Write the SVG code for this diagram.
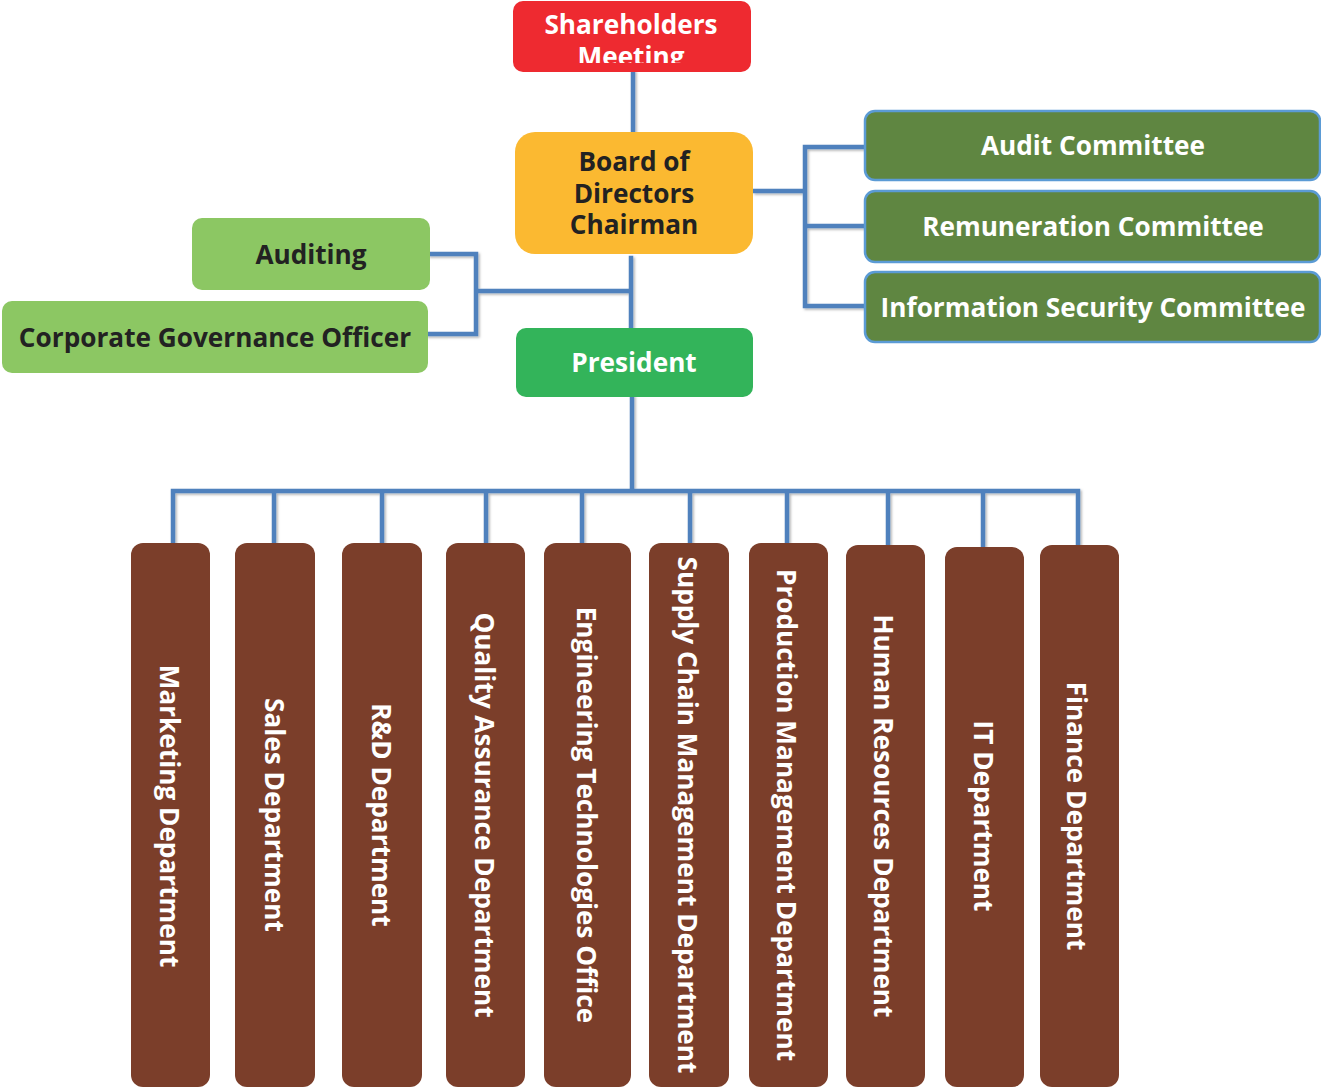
<svg xmlns="http://www.w3.org/2000/svg" width="1321" height="1087" viewBox="0 0 1321 1087">
<defs>
<style>
.t{font-family:"Open Sans","Noto Sans","DejaVu Sans",sans-serif;font-weight:bold;font-size:26.2px;text-anchor:middle;dominant-baseline:central}
.w{fill:#ffffff}
.d{fill:#222222}
.conn{fill:none;stroke:#4F81BD;stroke-width:4.5;stroke-linecap:square}
.dept{fill:#7B3E2A}
.cmt{fill:#5F8641;stroke:#5B9BD5;stroke-width:2.5}
</style>
<filter id="sh" x="-5%" y="-5%" width="110%" height="110%">
<feDropShadow dx="1.5" dy="1.5" stdDeviation="1.2" flood-color="#000" flood-opacity="0.3"/>
</filter>
<clipPath id="clipSH"><rect x="513" y="1" width="238" height="62"/></clipPath>
</defs>
<rect width="1321" height="1087" fill="#ffffff"/>

<g id="connectors" filter="url(#sh)">
<path class="conn" d="M633,72 V132"/>
<path class="conn" d="M755,191 H805 M805,147 V306 M805,147 H865 M805,226 H865 M805,306 H865"/>
<path class="conn" d="M631,258 V328 M476,291 H631 M430,254 H476 V334 H428"/>
<path class="conn" d="M632,397 V491 M173,491 H1078 M173,491 V543 M274,491 V543 M382,491 V543 M486,491 V543 M582,491 V543 M690,491 V543 M787,491 V543 M888,491 V545 M983,491 V547 M1078,491 V545"/>
</g>

<g id="shareholders">
<rect x="513" y="1" width="238" height="71" rx="10" fill="#EE2A30"/>
<g clip-path="url(#clipSH)">
<text class="t w" x="631" y="24">Shareholders</text>
<text class="t w" x="631" y="56">Meeting</text>
</g>
</g>

<g id="board">
<rect x="515" y="132" width="238" height="122" rx="20" fill="#FBB931"/>
<text class="t d" x="634" y="161">Board of</text>
<text class="t d" x="634" y="193">Directors</text>
<text class="t d" x="634" y="224">Chairman</text>
</g>

<g id="audit-committee">
<rect class="cmt" x="865" y="111" width="455" height="69" rx="10"/>
<text class="t w" x="1093" y="145">Audit Committee</text>
</g>
<g id="remuneration-committee">
<rect class="cmt" x="865" y="191" width="455" height="71" rx="10"/>
<text class="t w" x="1093" y="226">Remuneration Committee</text>
</g>
<g id="infosec-committee">
<rect class="cmt" x="865" y="272" width="455" height="70" rx="10"/>
<text class="t w" x="1093" y="307">Information Security Committee</text>
</g>

<g id="auditing">
<rect x="192" y="218" width="238" height="72" rx="10" fill="#8CC763"/>
<text class="t d" x="311" y="254">Auditing</text>
</g>
<g id="cgo">
<rect x="2" y="301" width="426" height="72" rx="10" fill="#8CC763"/>
<text class="t d" x="215" y="337">Corporate Governance Officer</text>
</g>

<g id="president">
<rect x="516" y="328" width="237" height="69" rx="10" fill="#33B45A"/>
<text class="t w" x="634" y="362">President</text>
</g>

<g id="dept-marketing">
<rect class="dept" x="131" y="543" width="79" height="544" rx="12"/>
<text class="t w" transform="rotate(90 170 816)" x="170" y="816">Marketing Department</text>
</g>
<g id="dept-sales">
<rect class="dept" x="235" y="543" width="80" height="544" rx="12"/>
<text class="t w" transform="rotate(90 275 815)" x="275" y="815">Sales Department</text>
</g>
<g id="dept-rd">
<rect class="dept" x="342" y="543" width="80" height="544" rx="12"/>
<text class="t w" transform="rotate(90 382 815)" x="382" y="815">R&amp;D Department</text>
</g>
<g id="dept-qa">
<rect class="dept" x="446" y="543" width="79" height="544" rx="12"/>
<text class="t w" transform="rotate(90 485 815)" x="485" y="815">Quality Assurance Department</text>
</g>
<g id="dept-eng">
<rect class="dept" x="544" y="543" width="87" height="544" rx="12"/>
<text class="t w" transform="rotate(90 587 815)" x="587" y="815">Engineering Technologies Office</text>
</g>
<g id="dept-scm">
<rect class="dept" x="649" y="543" width="80" height="544" rx="12"/>
<text class="t w" transform="rotate(90 688 815)" x="688" y="815">Supply Chain Management Department</text>
</g>
<g id="dept-prod">
<rect class="dept" x="749" y="543" width="79" height="544" rx="12"/>
<text class="t w" transform="rotate(90 787 815)" x="787" y="815">Production Management Department</text>
</g>
<g id="dept-hr">
<rect class="dept" x="846" y="545" width="79" height="542" rx="12"/>
<text class="t w" transform="rotate(90 884 816)" x="884" y="816">Human Resources Department</text>
</g>
<g id="dept-it">
<rect class="dept" x="945" y="547" width="79" height="540" rx="12"/>
<text class="t w" transform="rotate(90 984 816)" x="984" y="816">IT Department</text>
</g>
<g id="dept-finance">
<rect class="dept" x="1040" y="545" width="79" height="542" rx="12"/>
<text class="t w" transform="rotate(90 1077 816)" x="1077" y="816">Finance Department</text>
</g>
</svg>
